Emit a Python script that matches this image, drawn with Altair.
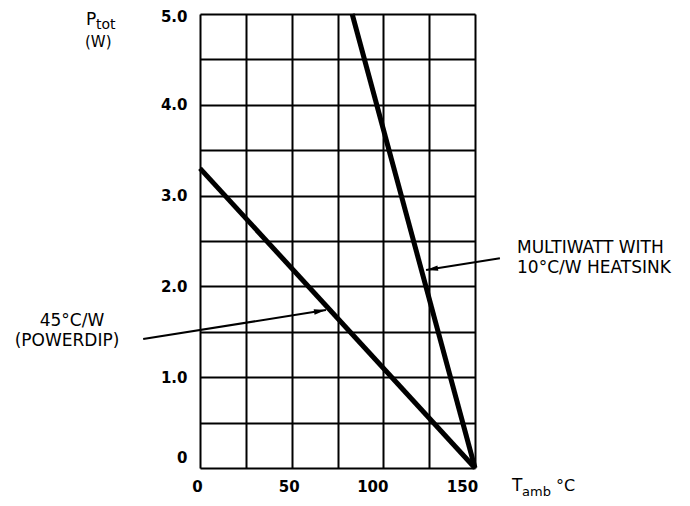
import altair as alt
import pandas as pd

# ---- data ----
temp_powerdip = [0, 150]
p_powerdip = [3.3, 0.0]
temp_multiwatt = [83, 150]
p_multiwatt = [5.0, 0.0]

x_grid = [0, 25, 50, 75, 100, 125, 150]
y_grid = [0, 0.5, 1.0, 1.5, 2.0, 2.5, 3.0, 3.5, 4.0, 4.5, 5.0]

# annotation arrows (data units): start -> tip
arrow_powerdip_x = [-31.0, 68.7]
arrow_powerdip_y = [1.42, 1.74]
arrow_multiwatt_x = [163.6, 123.3]
arrow_multiwatt_y = [2.31, 2.18]

FONT = "DejaVu Sans"

df_lines = pd.DataFrame({
    "t": temp_powerdip + temp_multiwatt,
    "p": p_powerdip + p_multiwatt,
    "curve": ["powerdip"] * len(temp_powerdip) + ["multiwatt"] * len(temp_multiwatt),
})

df_arrows = pd.DataFrame({
    "t": arrow_powerdip_x + arrow_multiwatt_x,
    "p": arrow_powerdip_y + arrow_multiwatt_y,
    "arrow": ["a1", "a1", "a2", "a2"],
})

df_heads = pd.DataFrame({
    "t": [arrow_powerdip_x[1], arrow_multiwatt_x[1]],
    "p": [arrow_powerdip_y[1], arrow_multiwatt_y[1]],
    "ang": [350.6, 170.5],
})

xscale = alt.Scale(domain=[0, 150], nice=False, zero=False)
yscale = alt.Scale(domain=[0, 5], nice=False, zero=False)

x_axis = alt.Axis(
    values=x_grid,
    labelExpr="datum.value % 50 == 0 ? datum.label : ''",
    title=None, grid=True, ticks=False, tickSize=0, domain=False,
    gridColor="black", gridWidth=2, gridOpacity=1,
    labelFont=FONT, labelFontSize=15, labelFontWeight="bold", labelColor="black",
    labelPadding=11, labelFlush=False, labelOverlap=False,
    labelOffset={"condition": [
        {"test": "datum.value == 100", "value": -11},
        {"test": "datum.value == 150", "value": -13}], "value": -3},
)
y_axis = alt.Axis(
    values=y_grid,
    labelExpr="datum.value % 1 == 0 ? (datum.value == 0 ? '0' : format(datum.value, '.1f')) : ''",
    title=None, grid=True, ticks=False, tickSize=0, domain=False,
    gridColor="black", gridWidth=2, gridOpacity=1,
    labelFont=FONT, labelFontSize=15, labelFontWeight="bold", labelColor="black",
    labelPadding=13, labelFlush=False, labelOverlap=False,
    labelOffset={"condition": [
        {"test": "datum.value == 0", "value": -11},
        {"test": "datum.value == 5", "value": 2}], "value": 0},
)

lines = alt.Chart(df_lines).mark_line(color="black", strokeWidth=5, strokeCap="butt").encode(
    x=alt.X("t:Q", scale=xscale, axis=x_axis),
    y=alt.Y("p:Q", scale=yscale, axis=y_axis),
    detail="curve:N",
)

arrows = alt.Chart(df_arrows).mark_line(color="black", strokeWidth=2).encode(
    x=alt.X("t:Q", scale=xscale),
    y=alt.Y("p:Q", scale=yscale),
    detail="arrow:N",
)

heads = alt.Chart(df_heads).mark_point(
    shape="M0,0L-4,-0.9L-4,0.9Z", filled=True, color="black", opacity=1, size=36,
).encode(
    x=alt.X("t:Q", scale=xscale),
    y=alt.Y("p:Q", scale=yscale),
    angle=alt.Angle("ang:Q", scale=None),
)


def label(text, px, py, size=17, align="left", baseline="middle"):
    return alt.Chart(alt.Data(values=[{}])).mark_text(
        text=text, font=FONT, fontSize=size, color="black", align=align, baseline=baseline,
    ).encode(x=alt.value(px), y=alt.value(py))


texts = [
    label("45°C/W", -128, 307, align="center"),
    label("(POWERDIP)", -133, 327, align="center"),
    label("MULTIWATT WITH", 317, 234),
    label("10°C/W HEATSINK", 317, 254),
    label("P", -114, 6, size=17),
    label("tot", -104, 11, size=14),
    label("(W)", -115, 28, size=15),
    label("T", 312, 472, size=17),
    label("amb", 322, 478, size=13),
    label("°C", 356, 472, size=16),
]

chart = alt.layer(lines, arrows, heads, *texts).properties(
    width=275, height=454,
    padding={"left": 192, "top": 6, "right": 207, "bottom": 30},
    autosize=alt.AutoSizeParams(type="none"),
).configure_view(stroke="black", strokeWidth=3).configure(background="white")

chart.save("out.html", embed_options={"renderer": "svg", "actions": False})
